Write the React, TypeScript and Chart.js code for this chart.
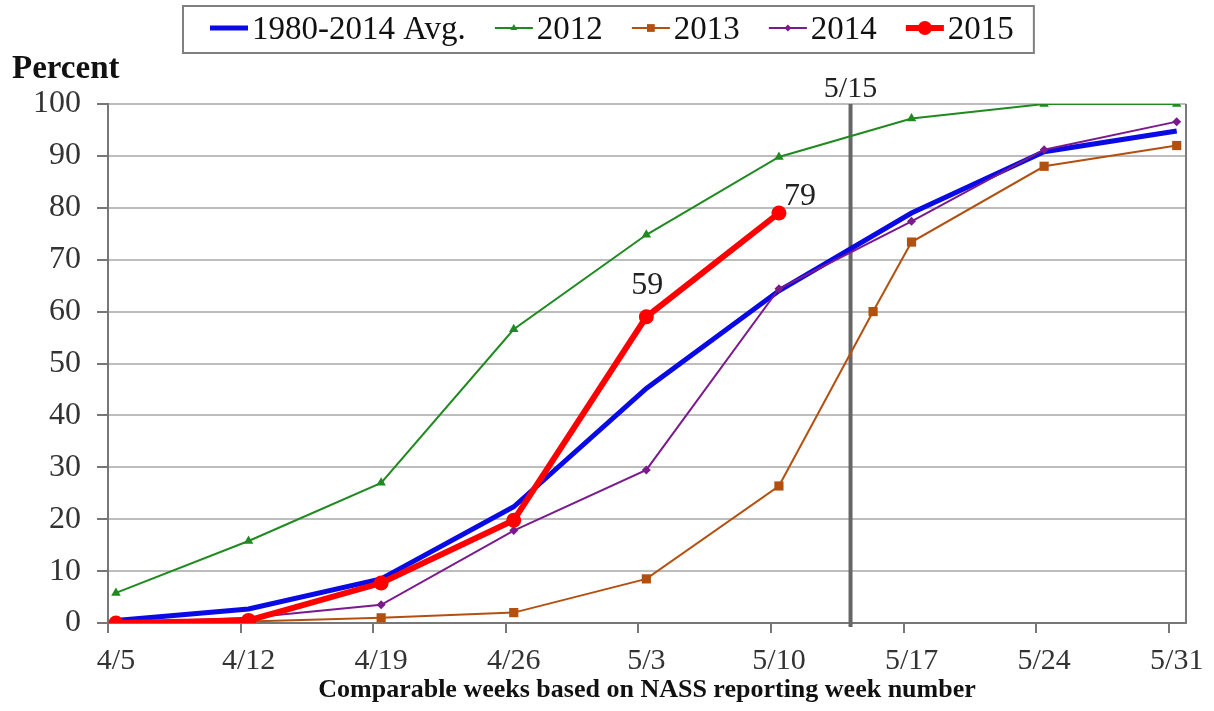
import { useEffect, useRef } from "react";
import { Chart, registerables } from "chart.js";

Chart.register(...registerables);

// ---- data ----
const weekLabels = ["4/5", "4/12", "4/19", "4/26", "5/3", "5/10", "5/17", "5/24", "5/31"];
const weekPositions = [0, 1, 2, 3, 4, 5, 6, 7, 8];
const avgValues = [0.5, 2.7, 8.5, 22.4, 45.2, 64, 79, 90.8, 94.8];
const y2012Values = [5.8, 15.8, 27, 56.6, 74.8, 89.8, 97.2, 100, 100];
const y2013Positions = [0, 1, 2, 3, 4, 5, 5.71, 6, 7, 8];
const y2013Values = [0, 0.3, 1, 2, 8.5, 26.4, 60, 73.4, 88, 92];
const y2014Values = [0, 1, 3.5, 17.8, 29.5, 64.4, 77.4, 91.2, 96.6];
const y2015Values = [0, 0.5, 7.7, 19.8, 59, 79];
const y2015LabelIndices = [4, 5];
const referenceWeek = 5.54;
const referenceLabel = "5/15";
const xAxisTitle = "Comparable weeks based on NASS reporting week number";
const yAxisTitle = "Percent";

const SERIF = '"Liberation Serif", "Times New Roman", serif';

const toPoints = (xs: number[], ys: number[]) => ys.map((y, i) => ({ x: xs[i], y }));

function drawMarker(ctx: CanvasRenderingContext2D, style: string, r: number, x: number, y: number, color: string) {
  ctx.save();
  ctx.fillStyle = color;
  ctx.beginPath();
  if (style === "circle") {
    ctx.arc(x, y, r, 0, Math.PI * 2);
  } else if (style === "triangle") {
    ctx.moveTo(x, y - r);
    ctx.lineTo(x + r * 0.87, y + r * 0.5);
    ctx.lineTo(x - r * 0.87, y + r * 0.5);
    ctx.closePath();
  } else if (style === "rect") {
    const s = r * Math.SQRT1_2;
    ctx.rect(x - s, y - s, 2 * s, 2 * s);
  } else if (style === "rectRot") {
    ctx.moveTo(x, y - r);
    ctx.lineTo(x + r, y);
    ctx.lineTo(x, y + r);
    ctx.lineTo(x - r, y);
    ctx.closePath();
  }
  ctx.fill();
  ctx.restore();
}

const decorPlugin = {
  id: "decor",
  beforeDatasetsDraw(chart: any) {
    const { ctx, chartArea: a, scales } = chart;
    ctx.save();
    ctx.strokeStyle = "#7a7a7a";
    ctx.lineWidth = 2;
    ctx.beginPath();
    ctx.moveTo(a.right, a.top);
    ctx.lineTo(a.right, a.bottom);
    ctx.stroke();
    const rx = scales.x.getPixelForValue(referenceWeek);
    ctx.strokeStyle = "#666";
    ctx.lineWidth = 4;
    ctx.beginPath();
    ctx.moveTo(rx, a.top);
    ctx.lineTo(rx, a.bottom + 4);
    ctx.stroke();
    ctx.restore();
  },
  afterDraw(chart: any) {
    const { ctx, chartArea: a, scales } = chart;
    ctx.save();
    // reference label
    ctx.font = `30px ${SERIF}`;
    ctx.fillStyle = "#222";
    ctx.textAlign = "center";
    ctx.textBaseline = "alphabetic";
    ctx.fillText(referenceLabel, scales.x.getPixelForValue(referenceWeek), a.top - 7);

    // y axis title
    ctx.font = `bold 33px ${SERIF}`;
    ctx.fillStyle = "#111";
    ctx.textAlign = "left";
    ctx.fillText(yAxisTitle, 12, 78);

    // value labels on 2015
    const idx = chart.data.datasets.findIndex((d: any) => d.label === "2015");
    const meta = chart.getDatasetMeta(idx);
    ctx.font = `32px ${SERIF}`;
    ctx.fillStyle = "#222";
    ctx.textAlign = "center";
    const offsets = [
      { dx: 1, dy: -23 },
      { dx: 21, dy: -8 },
    ];
    y2015LabelIndices.forEach((pi, k) => {
      const el = meta.data[pi];
      ctx.fillText(String(Math.round(y2015Values[pi])), el.x + offsets[k].dx, el.y + offsets[k].dy);
    });

    // legend
    ctx.font = `33px ${SERIF}`;
    ctx.textAlign = "left";
    const boxLeft = 183;
    const boxTop = 6;
    const boxBottom = 53;
    const cy = 28;
    let x = boxLeft + 27;
    const sample = 38;
    chart.data.datasets.forEach((ds: any) => {
      ctx.strokeStyle = ds.borderColor;
      ctx.lineWidth = Math.min(ds.borderWidth, 6);
      ctx.beginPath();
      ctx.moveTo(x, cy);
      ctx.lineTo(x + sample, cy);
      ctx.stroke();
      if (ds.pointRadius > 0) {
        drawMarker(ctx, ds.pointStyle, ds.legendRadius, x + sample / 2, cy, ds.borderColor);
      }
      ctx.fillStyle = "#111";
      ctx.fillText(ds.label, x + sample + 4, 39);
      x += sample + 4 + ctx.measureText(ds.label).width + 29;
    });
    const boxRight = x - 29 + 20;
    ctx.strokeStyle = "#808080";
    ctx.lineWidth = 2;
    ctx.strokeRect(boxLeft, boxTop, boxRight - boxLeft, boxBottom - boxTop);
    ctx.restore();
  },
};

export default function App() {
  const ref = useRef<HTMLCanvasElement>(null);
  useEffect(() => {
    document.body.style.margin = "0";
    const datasets: any[] = [
      {
        label: "1980-2014 Avg.",
        data: toPoints(weekPositions, avgValues),
        borderColor: "#0a0ae6",
        backgroundColor: "#0a0ae6",
        borderWidth: 5,
        pointRadius: 0,
        legendRadius: 0,
        order: 4,
      },
      {
        label: "2012",
        data: toPoints(weekPositions, y2012Values),
        borderColor: "#1f8a1f",
        backgroundColor: "#1f8a1f",
        borderWidth: 2,
        pointStyle: "triangle",
        pointRadius: 5.5,
        pointBorderWidth: 0,
        legendRadius: 4,
        order: 3,
      },
      {
        label: "2013",
        data: toPoints(y2013Positions, y2013Values),
        borderColor: "#b4500f",
        backgroundColor: "#b4500f",
        borderWidth: 2,
        pointStyle: "rect",
        pointRadius: 6.5,
        pointBorderWidth: 0,
        legendRadius: 5.5,
        order: 2,
      },
      {
        label: "2014",
        data: toPoints(weekPositions, y2014Values),
        borderColor: "#7b1a8c",
        backgroundColor: "#7b1a8c",
        borderWidth: 2,
        pointStyle: "rectRot",
        pointRadius: 4.5,
        pointBorderWidth: 0,
        legendRadius: 3.5,
        order: 1,
      },
      {
        label: "2015",
        data: toPoints(weekPositions, y2015Values),
        borderColor: "#ff0000",
        backgroundColor: "#ff0000",
        borderWidth: 6,
        pointStyle: "circle",
        pointRadius: 7.5,
        pointBorderWidth: 0,
        legendRadius: 7,
        order: 0,
      },
    ];
    const chart = new Chart(ref.current!, {
      type: "line",
      data: { datasets },
      options: {
        animation: false,
        responsive: true,
        maintainAspectRatio: false,
        layout: { padding: { top: 104, right: 28, left: 0, bottom: 0 } },
        plugins: { legend: { display: false }, tooltip: { enabled: false } },
        elements: { line: { tension: 0 } },
        scales: {
          x: {
            type: "linear",
            min: -0.06,
            max: 8.07,
            afterBuildTicks: (s: any) => {
              s.ticks = weekLabels.map((_, i) => ({ value: weekPositions[i] - 0.06 }));
            },
            afterFit: (s: any) => {
              s.height = 88;
            },
            ticks: {
              callback: (_v: any, i: number) => weekLabels[i],
              labelOffset: 8,
              padding: 10,
              autoSkip: false,
              maxRotation: 0,
              font: { family: SERIF, size: 30 },
              color: "#333",
            },
            grid: { drawOnChartArea: false, drawTicks: true, tickLength: 10, color: "#777", lineWidth: 2 },
            border: { color: "#777", width: 2 },
            title: {
              display: true,
              text: xAxisTitle,
              font: { family: SERIF, size: 26, weight: "bold" },
              color: "#111",
              padding: { top: 0, bottom: 5 },
            },
          },
          y: {
            min: 0,
            max: 100,
            afterFit: (s: any) => {
              s.width = 108;
            },
            ticks: { stepSize: 10, padding: 16, font: { family: SERIF, size: 32 }, color: "#333" },
            grid: { color: "#bdbdbd", lineWidth: 2, tickLength: 11, tickColor: "#777" },
            border: { color: "#777", width: 2 },
          },
        },
      } as any,
      plugins: [decorPlugin],
    });
    return () => chart.destroy();
  }, []);
  return (
    <div style={{ width: 1214, height: 711, position: "relative" }}>
      <canvas ref={ref} />
    </div>
  );
}
